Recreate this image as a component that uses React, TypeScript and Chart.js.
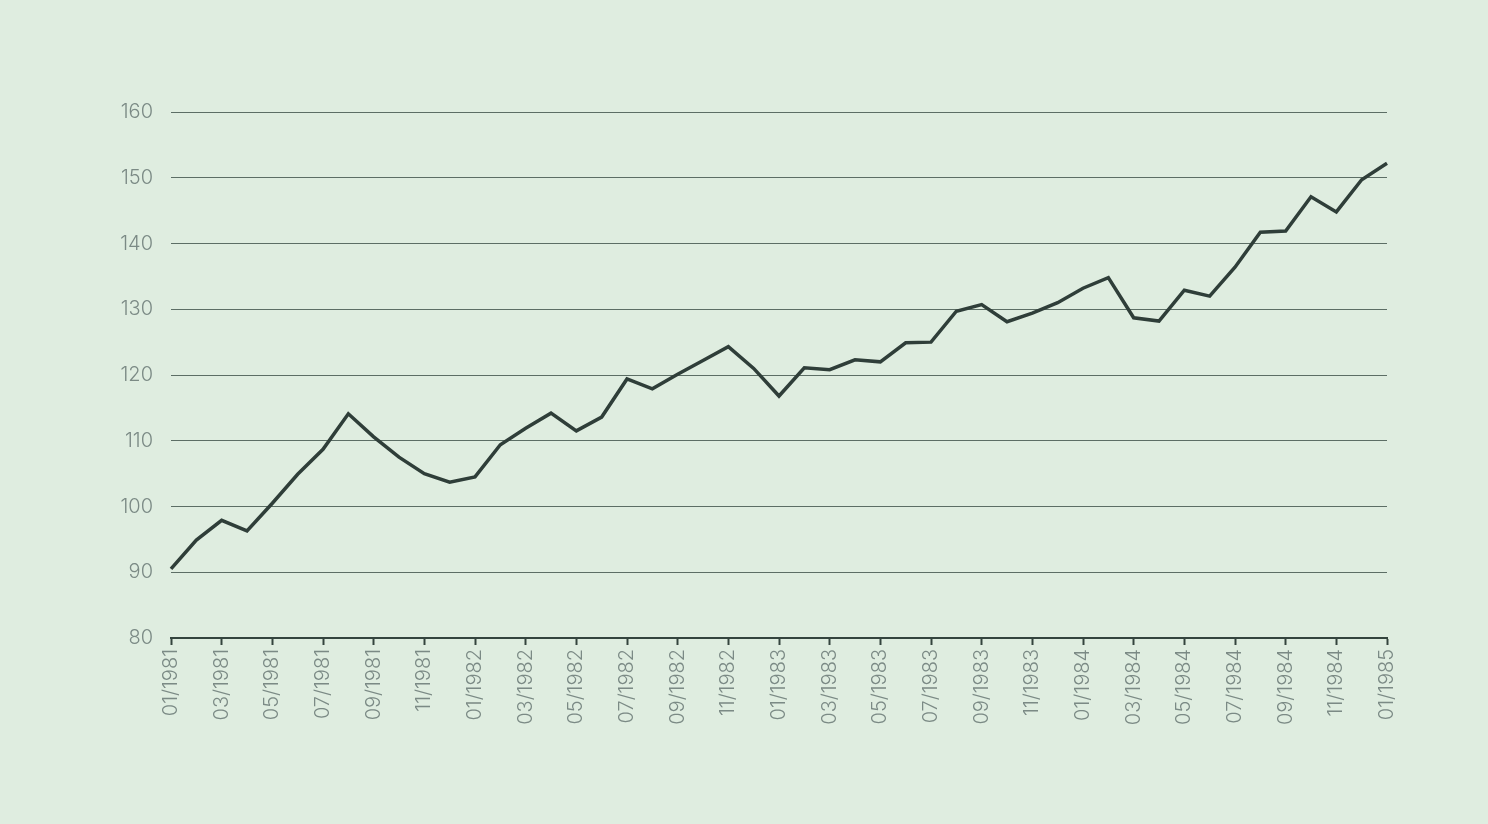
import { useEffect, useRef } from 'react';
import { Chart, registerables } from 'chart.js';

Chart.register(...registerables);

// monthly index values, 01/1981 .. 01/1985
const monthLabels = [
  '01/1981', '02/1981', '03/1981', '04/1981', '05/1981', '06/1981', '07/1981', '08/1981', '09/1981', '10/1981', '11/1981', '12/1981',
  '01/1982', '02/1982', '03/1982', '04/1982', '05/1982', '06/1982', '07/1982', '08/1982', '09/1982', '10/1982', '11/1982', '12/1982',
  '01/1983', '02/1983', '03/1983', '04/1983', '05/1983', '06/1983', '07/1983', '08/1983', '09/1983', '10/1983', '11/1983', '12/1983',
  '01/1984', '02/1984', '03/1984', '04/1984', '05/1984', '06/1984', '07/1984', '08/1984', '09/1984', '10/1984', '11/1984', '12/1984',
  '01/1985',
];

const indexValues = [
  90.5, 94.9, 97.9, 96.3, 100.5, 104.9, 108.7, 114.1, 110.6, 107.5,
  105.0, 103.7, 104.5, 109.4, 111.9, 114.2, 111.5, 113.6, 119.4, 117.9,
  120.1, 122.2, 124.3, 121.0, 116.8, 121.1, 120.8, 122.3, 122.0, 124.9,
  125.0, 129.7, 130.7, 128.1, 129.4, 131.0, 133.2, 134.8, 128.7, 128.2,
  132.9, 132.0, 136.4, 141.7, 141.9, 147.1, 144.8, 149.7, 152.2,
];

const yMin = 80;
const yMax = 160;
const yStep = 10;

const BG = '#dfede0';
const LINE = '#2f3e39';
const GRID = '#5c6e65';
const AXIS = '#34443e';
const TEXT = '#7b8a85';

const App = () => {
  const canvasRef = useRef<HTMLCanvasElement>(null);
  const chartRef = useRef<Chart | null>(null);

  useEffect(() => {
    document.body.style.margin = '0';
    document.body.style.background = BG;

    if (chartRef.current) chartRef.current.destroy();
    const ctx = canvasRef.current!.getContext('2d')!;

    chartRef.current = new Chart(ctx, {
      type: 'line',
      data: {
        labels: monthLabels,
        datasets: [{
          data: indexValues,
          borderColor: LINE,
          borderWidth: 3.5,
          pointRadius: 0,
          tension: 0,
          fill: false,
        }],
      },
      options: {
        responsive: false,
        animation: false,
        layout: { padding: { top: 112, right: 101, bottom: 0, left: 0 } },
        plugins: { legend: { display: false }, tooltip: { enabled: false } },
        scales: {
          x: {
            grid: {
              drawOnChartArea: false,
              drawTicks: true,
              tickLength: 7,
              tickWidth: 2,
              tickColor: (c: any) => (c.index % 2 === 0 ? AXIS : 'transparent'),
            },
            border: { display: true, color: AXIS, width: 2 },
            ticks: {
              autoSkip: false,
              maxRotation: 90,
              minRotation: 90,
              padding: 4,
              color: TEXT,
              font: { family: 'Inter', size: 20, weight: 300 },
              callback: (_v: any, i: number) => (i % 2 === 0 ? monthLabels[i] : ''),
            },
            afterFit: (scale: any) => { scale.height = 186; },
          },
          y: {
            min: yMin,
            max: yMax,
            grid: { color: GRID, lineWidth: 1, drawTicks: false },
            border: { display: false },
            ticks: {
              stepSize: yStep,
              padding: 18,
              color: TEXT,
              font: { family: 'Inter', size: 20, weight: 300 },
            },
            afterFit: (scale: any) => { scale.width = 171; },
          },
        },
      },
    });

    return () => {
      if (chartRef.current) {
        chartRef.current.destroy();
        chartRef.current = null;
      }
    };
  }, []);

  return (
    <div style={{ width: 1488, height: 824, background: BG }}>
      <canvas ref={canvasRef} width={1488} height={824} style={{ display: 'block' }} />
    </div>
  );
};

export default App;
